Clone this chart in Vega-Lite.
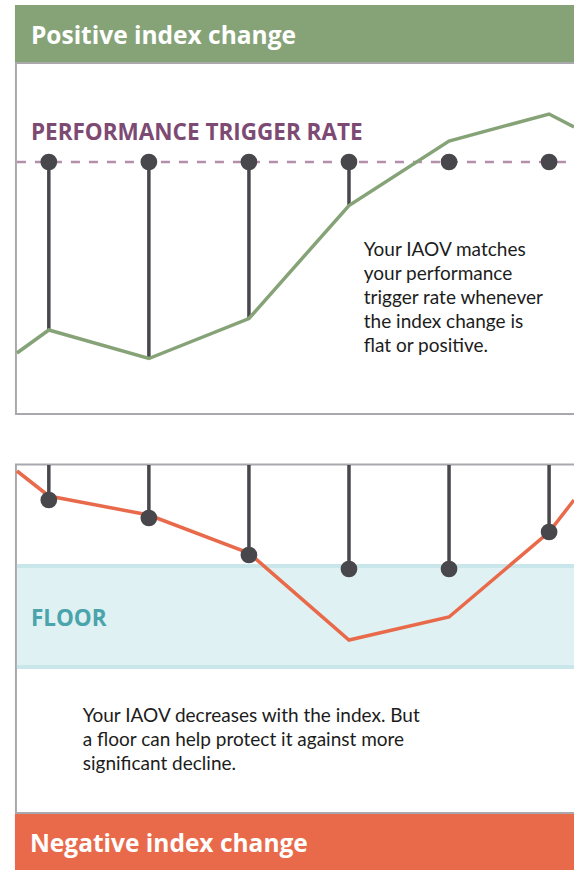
{
  "$schema": "https://vega.github.io/schema/vega-lite/v6.json",
  "width": 576,
  "height": 870,
  "autosize": {"type": "fit", "contains": "padding"},
  "padding": 0,
  "background": "#ffffff",
  "config": {"view": {"stroke": null}},
  "layer": [
    {
      "data": {"values": [
        {"section": "Positive index change", "start": -0.3386, "end": 5.5, "low": 808, "high": 865},
        {"section": "Negative index change", "start": -0.3386, "end": 5.5, "low": 0, "high": 56}
      ]},
      "mark": {"type": "rect", "clip": true},
      "encoding": {
        "x": {"field": "start", "type": "quantitative", "scale": {"domain": [-0.488, 5.249], "nice": false, "zero": false}, "axis": null},
        "x2": {"field": "end"},
        "y": {"field": "low", "type": "quantitative", "scale": {"domain": [0, 870], "nice": false, "zero": false}, "axis": null},
        "y2": {"field": "high"},
        "color": {"field": "section", "type": "nominal", "scale": {"domain": ["Positive index change", "Negative index change"], "range": ["#86a378", "#e96a4a"]}, "legend": null}
      }
    },
    {
      "data": {"values": [
        {"panel": "positive", "start": -0.3286, "end": 5.6, "low": 456, "high": 807},
        {"panel": "negative", "start": -0.3286, "end": 5.6, "low": 57, "high": 405.5}
      ]},
      "mark": {"type": "rect", "clip": true, "filled": false, "color": "#a9a8ac", "strokeWidth": 2},
      "encoding": {
        "x": {"field": "start", "type": "quantitative", "axis": null},
        "x2": {"field": "end"},
        "y": {"field": "low", "type": "quantitative", "axis": null},
        "y2": {"field": "high"}
      }
    },
    {
      "data": {"values": [
        {"zone": "floor", "start": -0.3186, "end": 5.5, "low": 201, "high": 306}
      ]},
      "mark": {"type": "rect", "clip": true, "color": "#dff1f3"},
      "encoding": {
        "x": {"field": "start", "type": "quantitative", "axis": null},
        "x2": {"field": "end"},
        "y": {"field": "low", "type": "quantitative", "axis": null},
        "y2": {"field": "high"}
      }
    },
    {
      "data": {"values": [
        {"edge": "top", "level": 304, "start": -0.3186, "end": 5.249},
        {"edge": "bottom", "level": 203, "start": -0.3186, "end": 5.249}
      ]},
      "mark": {"type": "rule", "color": "#c9e7eb", "strokeWidth": 4},
      "encoding": {
        "x": {"field": "start", "type": "quantitative", "axis": null},
        "x2": {"field": "end"},
        "y": {"field": "level", "type": "quantitative", "axis": null}
      }
    },
    {
      "data": {"values": [
        {"line": "performance trigger rate", "level": 708, "start": -0.3186, "end": 5.249}
      ]},
      "mark": {"type": "rule", "color": "#b48fac", "strokeWidth": 2.5, "strokeDash": [9, 9]},
      "encoding": {
        "x": {"field": "start", "type": "quantitative", "axis": null},
        "x2": {"field": "end"},
        "y": {"field": "level", "type": "quantitative", "axis": null}
      }
    },
    {
      "data": {"values": [
        {"period": 0, "from": 708, "to": 540},
        {"period": 1, "from": 708, "to": 511.5},
        {"period": 2, "from": 708, "to": 551.5},
        {"period": 3, "from": 708, "to": 664.5},
        {"period": 0, "from": 405, "to": 370},
        {"period": 1, "from": 405, "to": 352},
        {"period": 2, "from": 405, "to": 315},
        {"period": 3, "from": 405, "to": 301},
        {"period": 4, "from": 405, "to": 301},
        {"period": 5, "from": 405, "to": 338}
      ]},
      "mark": {"type": "rule", "color": "#48474b", "strokeWidth": 3.5},
      "encoding": {
        "x": {"field": "period", "type": "quantitative", "axis": null},
        "y": {"field": "from", "type": "quantitative", "axis": null},
        "y2": {"field": "to"}
      }
    },
    {
      "data": {"values": [
        {"period": -0.3186, "index": 517},
        {"period": 0, "index": 540},
        {"period": 1, "index": 511.5},
        {"period": 2, "index": 551.5},
        {"period": 3, "index": 664.5},
        {"period": 4, "index": 729},
        {"period": 5, "index": 756},
        {"period": 5.249, "index": 743}
      ]},
      "mark": {"type": "line", "color": "#86a378", "strokeWidth": 3.5, "clip": true},
      "encoding": {
        "x": {"field": "period", "type": "quantitative", "axis": null},
        "y": {"field": "index", "type": "quantitative", "axis": null}
      }
    },
    {
      "data": {"values": [
        {"period": -0.3186, "index": 399},
        {"period": 0, "index": 374},
        {"period": 1, "index": 355},
        {"period": 2, "index": 317},
        {"period": 3, "index": 230},
        {"period": 4, "index": 253},
        {"period": 5, "index": 338},
        {"period": 5.249, "index": 370}
      ]},
      "mark": {"type": "line", "color": "#e96a4a", "strokeWidth": 3.5, "clip": true},
      "encoding": {
        "x": {"field": "period", "type": "quantitative", "axis": null},
        "y": {"field": "index", "type": "quantitative", "axis": null}
      }
    },
    {
      "data": {"values": [
        {"period": 0, "iaov": 708}, {"period": 1, "iaov": 708}, {"period": 2, "iaov": 708},
        {"period": 3, "iaov": 708}, {"period": 4, "iaov": 708}, {"period": 5, "iaov": 708},
        {"period": 0, "iaov": 370}, {"period": 1, "iaov": 352}, {"period": 2, "iaov": 315},
        {"period": 3, "iaov": 301}, {"period": 4, "iaov": 301}, {"period": 5, "iaov": 338}
      ]},
      "mark": {"type": "point", "shape": "circle", "filled": true, "opacity": 1, "size": 280, "color": "#48474b"},
      "encoding": {
        "x": {"field": "period", "type": "quantitative", "axis": null},
        "y": {"field": "iaov", "type": "quantitative", "axis": null}
      }
    },
    {
      "data": {"values": [
        {"label": "Positive index change", "period": -0.1792, "level": 826.5},
        {"label": "Negative index change", "period": -0.1892, "level": 18}
      ]},
      "mark": {"type": "text", "align": "left", "baseline": "alphabetic", "font": "Open Sans", "fontWeight": "bold", "fontSize": 24.5, "color": "#ffffff"},
      "encoding": {
        "x": {"field": "period", "type": "quantitative", "axis": null},
        "y": {"field": "level", "type": "quantitative", "axis": null},
        "text": {"field": "label"}
      }
    },
    {
      "data": {"values": [
        {"label": "PERFORMANCE TRIGGER RATE", "period": -0.1792, "level": 730}
      ]},
      "mark": {"type": "text", "align": "left", "baseline": "alphabetic", "font": "Open Sans", "fontWeight": "bold", "fontSize": 22.5, "color": "#7d4a73"},
      "encoding": {
        "x": {"field": "period", "type": "quantitative", "axis": null},
        "y": {"field": "level", "type": "quantitative", "axis": null},
        "text": {"field": "label"}
      }
    },
    {
      "data": {"values": [
        {"label": "FLOOR", "period": -0.1792, "level": 244}
      ]},
      "mark": {"type": "text", "align": "left", "baseline": "alphabetic", "font": "Open Sans", "fontWeight": "bold", "fontSize": 22.5, "color": "#4aa4ab"},
      "encoding": {
        "x": {"field": "period", "type": "quantitative", "axis": null},
        "y": {"field": "level", "type": "quantitative", "axis": null},
        "text": {"field": "label"}
      }
    },
    {
      "data": {"values": [
        {"note": ["Your IAOV matches", "your performance", "trigger rate whenever", "the index change is", "flat or positive."], "period": 3.1478, "level": 614},
        {"note": ["Your IAOV decreases with the index. But", "a floor can help protect it against more", "significant decline."], "period": 0.3388, "level": 148}
      ]},
      "mark": {"type": "text", "align": "left", "baseline": "alphabetic", "font": "Lato", "fontSize": 19, "lineHeight": 24, "color": "#1c1c1c"},
      "encoding": {
        "x": {"field": "period", "type": "quantitative", "axis": null},
        "y": {"field": "level", "type": "quantitative", "axis": null},
        "text": {"field": "note"}
      }
    }
  ]
}
